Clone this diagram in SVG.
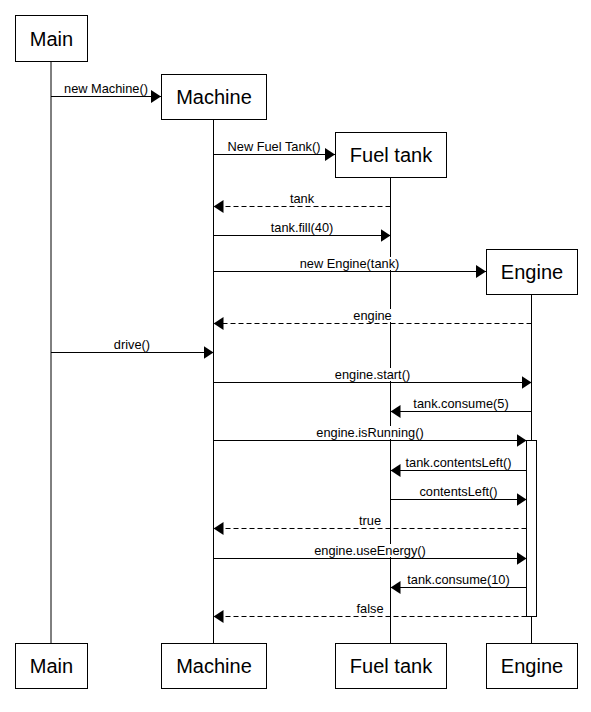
<svg xmlns="http://www.w3.org/2000/svg" width="591" height="712" viewBox="0 0 591 712">
<style>
.box{fill:#fff;stroke:#000;stroke-width:1}
.life{stroke:#000;stroke-width:1;fill:none}
.nt{font-family:"Liberation Sans",Arial,sans-serif;font-size:20px;fill:#000;text-anchor:middle}
.msg{stroke:#000;stroke-width:1;fill:none;marker-end:url(#ah)}
.ret{stroke-dasharray:5 3}
.lb{font-family:"Liberation Sans",Arial,sans-serif;font-size:12.8px;fill:#000;text-anchor:middle}
.bg{fill:#fff;stroke:none}
</style>
<defs>
<marker id="ah" markerUnits="userSpaceOnUse" markerWidth="10" markerHeight="13" refX="10" refY="6.5" orient="auto">
<path d="M0,0 L10,6.5 L0,13 Z" fill="#000"/>
</marker>
</defs>
<rect width="591" height="712" fill="#fff"/>
<g id="main">
<line class="life" x1="51" y1="61" x2="51" y2="643"/>
<rect class="box" x="15.5" y="15.5" width="72" height="46"/>
<text class="nt" x="51.5" y="45.5">Main</text>
<rect class="box" x="15.5" y="643.5" width="72" height="45"/>
<text class="nt" x="51.5" y="673">Main</text>
</g>
<g id="machine">
<line class="life" x1="213.5" y1="119" x2="213.5" y2="643"/>
<rect class="box" x="161.5" y="74.5" width="105" height="45"/>
<text class="nt" x="214" y="104">Machine</text>
<rect class="box" x="161.5" y="643.5" width="105" height="45"/>
<text class="nt" x="214" y="673">Machine</text>
</g>
<g id="fueltank">
<line class="life" x1="390.5" y1="177" x2="390.5" y2="643"/>
<rect class="box" x="335.5" y="132.5" width="111" height="45"/>
<text class="nt" x="391" y="162">Fuel tank</text>
<rect class="box" x="335.5" y="643.5" width="111" height="45"/>
<text class="nt" x="391" y="673">Fuel tank</text>
</g>
<g id="engine">
<line class="life" x1="531.5" y1="294" x2="531.5" y2="643"/>
<rect class="box" x="486.5" y="249.5" width="91" height="45"/>
<text class="nt" x="532" y="279">Engine</text>
<rect class="box" x="486.5" y="643.5" width="91" height="45"/>
<text class="nt" x="532" y="673">Engine</text>
<rect id="activation" class="box" x="526.5" y="440.5" width="10" height="176"/>
</g>
<g id="connectors">
<line class="msg" x1="51" y1="96.5" x2="161" y2="96.5"/>
<text class="lb" x="106" y="92.5">new Machine()</text>

<line class="msg" x1="213.5" y1="154.5" x2="335" y2="154.5"/>
<text class="lb" x="274" y="150.5">New Fuel Tank()</text>

<line class="msg ret" x1="390.5" y1="206.5" x2="213.5" y2="206.5"/>
<text class="lb" x="302" y="202.5">tank</text>

<line class="msg" x1="213.5" y1="235.5" x2="390.5" y2="235.5"/>
<text class="lb" x="302" y="231.5">tank.fill(40)</text>

<line class="msg" x1="213.5" y1="271.5" x2="486" y2="271.5"/>
<rect class="bg" x="299" y="257" width="101" height="13"/>
<text class="lb" x="349.5" y="267.5">new Engine(tank)</text>

<line class="msg ret" x1="531.5" y1="323.5" x2="213.5" y2="323.5"/>
<rect class="bg" x="352" y="309" width="41" height="13"/>
<text class="lb" x="372.5" y="319.5">engine</text>

<line class="msg" x1="51" y1="352.5" x2="213.5" y2="352.5"/>
<text class="lb" x="132" y="348.5">drive()</text>

<line class="msg" x1="213.5" y1="382.5" x2="531.5" y2="382.5"/>
<rect class="bg" x="334" y="368" width="77" height="13"/>
<text class="lb" x="372.5" y="378.5">engine.start()</text>

<line class="msg" x1="531.5" y1="411.5" x2="390.5" y2="411.5"/>
<text class="lb" x="461" y="407.5">tank.consume(5)</text>

<line class="msg" x1="213.5" y1="440.5" x2="526.5" y2="440.5"/>
<rect class="bg" x="315" y="426" width="109" height="13"/>
<text class="lb" x="370" y="436.5">engine.isRunning()</text>

<line class="msg" x1="526.5" y1="470.5" x2="390.5" y2="470.5"/>
<text class="lb" x="458.5" y="466.5">tank.contentsLeft()</text>

<line class="msg" x1="390.5" y1="499.5" x2="526.5" y2="499.5"/>
<text class="lb" x="458.5" y="495.5">contentsLeft()</text>

<line class="msg ret" x1="526.5" y1="528.5" x2="213.5" y2="528.5"/>
<text class="lb" x="370" y="524.5">true</text>

<line class="msg" x1="213.5" y1="558.5" x2="526.5" y2="558.5"/>
<rect class="bg" x="310" y="544" width="119" height="13"/>
<text class="lb" x="370" y="554.5">engine.useEnergy()</text>

<line class="msg" x1="526.5" y1="587.5" x2="390.5" y2="587.5"/>
<text class="lb" x="458.5" y="583.5">tank.consume(10)</text>

<line class="msg ret" x1="526.5" y1="616.5" x2="213.5" y2="616.5"/>
<text class="lb" x="370" y="612.5">false</text>
</g>
</svg>
